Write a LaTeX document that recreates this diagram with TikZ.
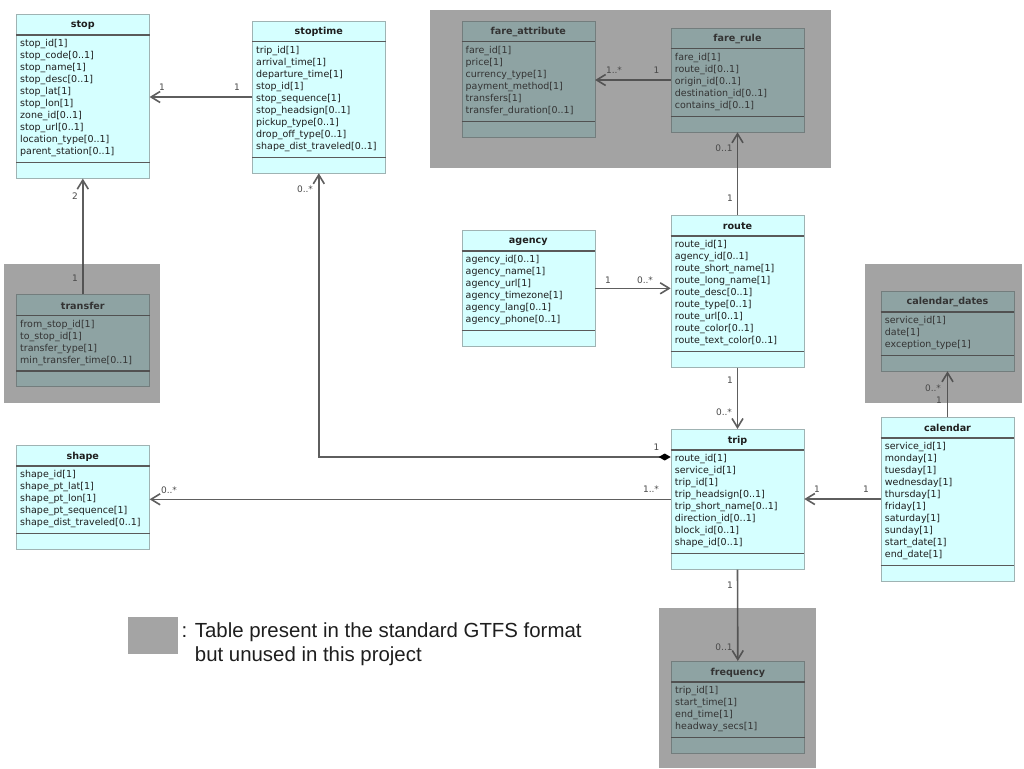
\documentclass[tikz,border=0pt]{standalone}
\usepackage{fontspec}
\setmainfont{DejaVu Sans}
\newfontfamily\legendfont{Liberation Sans}
\usetikzlibrary{arrows.meta}
\definecolor{clsfill}{HTML}{D5FFFF}
\definecolor{clsdraw}{HTML}{9FB3B3}
\definecolor{sepc}{HTML}{5A5A5A}
\definecolor{linec}{HTML}{5E5E5E}
\definecolor{labc}{HTML}{4A4A4A}
\definecolor{ovlc}{HTML}{494949}
\definecolor{legc}{HTML}{A4A4A4}
\definecolor{txtc}{HTML}{1E1E1E}
\tikzset{
  clsbox/.style={draw=clsdraw, line width=0.6pt, fill=clsfill, inner sep=0pt, rectangle},
  clstitle/.style={font=\fontsize{9.6}{11}\selectfont\bfseries, inner sep=0pt, text=txtc},
  clsattr/.style={font=\fontsize{9.5}{12}\selectfont, align=left, inner sep=0pt, text=txtc},
  clssep/.style={draw=sepc, line width=1.6pt},
  assoc/.style={draw=linec, line width=1.6pt, -{Straight Barb[length=9pt,width=11pt]}},
  comp/.style={draw=linec, line width=1.6pt, {Diamond[length=12pt,width=7pt,fill=black,color=black]}-{Straight Barb[length=9pt,width=11pt]}},
  mult/.style={font=\fontsize{9}{10}\selectfont, text=labc, inner sep=0pt},
  ovl/.style={fill=ovlc, fill opacity=0.5},
}
\newcommand{\umlcls}[7]{%
  \pgfmathsetmacro{\clsh}{12*#5+44}%
  \node[clsbox, minimum width=#4pt, minimum height=\clsh pt, anchor=north west] (#1) at (#2,#3) {};
  \node[clstitle] (#1-title) at ([yshift=-11.5pt]#1.north) {#6};
  \draw[clssep] ([yshift=-21pt]#1.north west) -- ([yshift=-21pt]#1.north east);
  \draw[clssep] ([yshift=16pt]#1.south west) -- ([yshift=16pt]#1.south east);
  \node[clsattr, anchor=north west] (#1-attrs) at ([xshift=4pt,yshift=-25.5pt]#1.north west) {#7};
}
\begin{document}
\begin{tikzpicture}[x=1pt,y=-1pt]
\useasboundingbox (0,0) rectangle (1024,768);
\fill[white] (0,0) rectangle (1024,768);

% classes
\umlcls{stop}{16}{14}{133}{10}{stop}{stop\_id[1]\\stop\_code[0..1]\\stop\_name[1]\\stop\_desc[0..1]\\stop\_lat[1]\\stop\_lon[1]\\zone\_id[0..1]\\stop\_url[0..1]\\location\_type[0..1]\\parent\_station[0..1]}
\umlcls{stoptime}{252}{20.7}{133}{9}{stoptime}{trip\_id[1]\\arrival\_time[1]\\departure\_time[1]\\stop\_id[1]\\stop\_sequence[1]\\stop\_headsign[0..1]\\pickup\_type[0..1]\\drop\_off\_type[0..1]\\shape\_dist\_traveled[0..1]}
\umlcls{fareattr}{461.5}{20.7}{133}{6}{fare\_attribute}{fare\_id[1]\\price[1]\\currency\_type[1]\\payment\_method[1]\\transfers[1]\\transfer\_duration[0..1]}
\umlcls{farerule}{670.7}{27.7}{133}{5}{fare\_rule}{fare\_id[1]\\route\_id[0..1]\\origin\_id[0..1]\\destination\_id[0..1]\\contains\_id[0..1]}
\umlcls{transfer}{16}{294.3}{133}{4}{transfer}{from\_stop\_id[1]\\to\_stop\_id[1]\\transfer\_type[1]\\min\_transfer\_time[0..1]}
\umlcls{agency}{461.5}{230}{133}{6}{agency}{agency\_id[0..1]\\agency\_name[1]\\agency\_url[1]\\agency\_timezone[1]\\agency\_lang[0..1]\\agency\_phone[0..1]}
\umlcls{route}{670.7}{215}{133}{9}{route}{route\_id[1]\\agency\_id[0..1]\\route\_short\_name[1]\\route\_long\_name[1]\\route\_desc[0..1]\\route\_type[0..1]\\route\_url[0..1]\\route\_color[0..1]\\route\_text\_color[0..1]}
\umlcls{caldates}{880.7}{290.7}{133}{3}{calendar\_dates}{service\_id[1]\\date[1]\\exception\_type[1]}
\umlcls{calendar}{880.7}{416.7}{133}{10}{calendar}{service\_id[1]\\monday[1]\\tuesday[1]\\wednesday[1]\\thursday[1]\\friday[1]\\saturday[1]\\sunday[1]\\start\_date[1]\\end\_date[1]}
\umlcls{shape}{16}{445}{133}{5}{shape}{shape\_id[1]\\shape\_pt\_lat[1]\\shape\_pt\_lon[1]\\shape\_pt\_sequence[1]\\shape\_dist\_traveled[0..1]}
\umlcls{trip}{670.7}{429}{133}{8}{trip}{route\_id[1]\\service\_id[1]\\trip\_id[1]\\trip\_headsign[0..1]\\trip\_short\_name[0..1]\\direction\_id[0..1]\\block\_id[0..1]\\shape\_id[0..1]}
\umlcls{frequency}{671}{661}{133}{4}{frequency}{trip\_id[1]\\start\_time[1]\\end\_time[1]\\headway\_secs[1]}

% connectors
\draw[assoc] (stoptime.west) -- (stop.east |- stoptime.west);
\draw[assoc] (transfer.north) -- (stop.south);
\draw[assoc] (farerule.west) -- (fareattr.east |- farerule.west);
\draw[assoc] (route.north) -- (farerule.south);
\draw[assoc] (agency.east) -- (route.west |- agency.east);
\draw[assoc] (route.south) -- (trip.north);
\draw[assoc] (trip.west) -- (shape.east |- trip.west);
\draw[assoc] (calendar.west) -- (trip.east |- calendar.west);
\draw[assoc] (calendar.north) -- (caldates.south);
\draw[assoc] (trip.south) -- (frequency.north);
\draw[comp] ([yshift=-28pt]trip.north west) -| (stoptime.south);

% multiplicities
\node[mult] (m1) at (162,87) {1};
\node[mult] (m2) at (237,87) {1};
\node[mult] (m3) at (75,196) {2};
\node[mult] (m4) at (75,278) {1};
\node[mult] (m5) at (614,70) {1..*};
\node[mult] (m6) at (656.5,70) {1};
\node[mult] (m7) at (724,148) {0..1};
\node[mult] (m8) at (730,198) {1};
\node[mult] (m9) at (608,280) {1};
\node[mult] (m10) at (645,280) {0..*};
\node[mult] (m11) at (730,380) {1};
\node[mult] (m12) at (724,412) {0..*};
\node[mult] (m13) at (305,189) {0..*};
\node[mult] (m14) at (656.5,447) {1};
\node[mult] (m15) at (169,490) {0..*};
\node[mult] (m16) at (651,489) {1..*};
\node[mult] (m17) at (817,489) {1};
\node[mult] (m18) at (866,489) {1};
\node[mult] (m19) at (933,388) {0..*};
\node[mult] (m20) at (939,400) {1};
\node[mult] (m21) at (730,585) {1};
\node[mult] (m22) at (724,647) {0..1};

% gray overlays (tables unused)
\fill[ovl] (430,10) rectangle (831,168);
\fill[ovl] (4,264) rectangle (160,403);
\fill[ovl] (865,264) rectangle (1022,403);
\fill[ovl] (659,608) rectangle (816,768);

% legend
\node[fill=legc, minimum width=50pt, minimum height=37pt, anchor=north west, inner sep=0pt] (legendkey) at (128,617) {};
\node[font=\legendfont\fontsize{20.4}{24.3}\selectfont, align=left, anchor=north west, inner sep=0pt, text=txtc] (legendtext) at (181.5,622.5) {: Table present in the standard GTFS format\\\hphantom{: }but unused in this project};
\end{tikzpicture}
\end{document}
